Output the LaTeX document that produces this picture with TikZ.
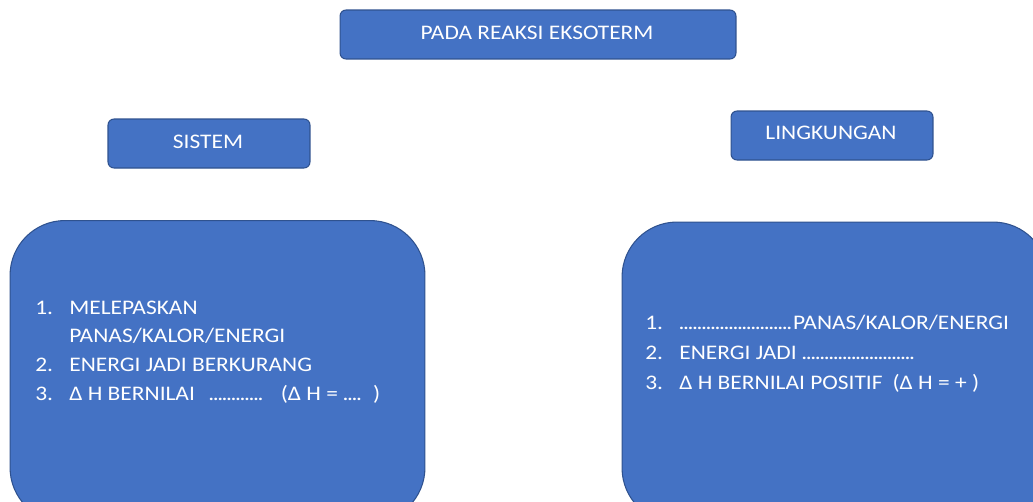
\documentclass[tikz,border=0pt]{standalone}
\usepackage{fontspec}
\setmainfont{Carlito}[FakeStretch=1.13]
\usepackage{tikz}
\usetikzlibrary{positioning}

\definecolor{isibiru}{HTML}{4472C4}
\definecolor{garisbiru}{HTML}{2F528F}

% nomor urut dengan lebar tetap, dan titik-titik isian
\newcommand{\nomor}[1]{\makebox[0.68cm][l]{#1}}
\newcommand{\titik}[1]{\makebox[#1]{\leaders\hbox to 0.09cm{\hss.\hss}\hfill}}

\begin{document}
\begin{tikzpicture}[
    x=0.02cm, y=-0.02cm,
    every node/.style={font=\fontsize{11.8}{16.4}\selectfont, text=white},
    kotak/.style={rectangle, draw=garisbiru, fill=isibiru, line width=0.6pt, rounded corners=0.12cm, inner sep=0pt},
    kotakbesar/.style={kotak, rounded corners=1.1cm, minimum width=8.4cm, minimum height=6.04cm},
    daftar/.style={align=left, anchor=west, inner sep=0pt}
]
    \useasboundingbox (0,0) rectangle (1033,501);
    \clip (0,0) rectangle (1033,501);

    \node[kotak, minimum width=7.92cm, minimum height=0.98cm] (judul) at (538,34.5) {};
    \node at (537,33) {PADA REAKSI EKSOTERM};

    \node[kotak, minimum width=4.04cm, minimum height=0.98cm] (sistem) at (209,143.5) {};
    \node at (208,142) {SISTEM};
    \node[kotak, minimum width=4.04cm, minimum height=0.98cm] (lingkungan) at (832,135.5) {};
    \node at (831,133) {LINGKUNGAN};

    \node[kotakbesar, minimum width=8.3cm] (kiri) at (217.5,371.5) {};
    \node[kotakbesar, minimum width=8.52cm, minimum height=6.02cm] (kanan) at (835,372.5) {};

    \node[daftar] (isikiri) at (35,352) {%
        \nomor{1.}MELEPASKAN\\
        \nomor{}PANAS/KALOR/ENERGI\\
        \nomor{2.}ENERGI JADI BERKURANG\\
        \nomor{3.}Δ H BERNILAI\hspace{0.28cm}\titik{1.08cm}\hspace{0.36cm}(Δ H = \titik{0.36cm}\hspace{0.24cm})};
    \node[daftar, font=\fontsize{11.8}{17}\selectfont] (isikanan) at (645,354) {%
        \nomor{1.}\titik{2.28cm}PANAS/KALOR/ENERGI\\
        \nomor{2.}ENERGI JADI \titik{2.28cm}\\
        \nomor{3.}Δ H BERNILAI POSITIF\hspace{0.2cm}(Δ H = + )};
\end{tikzpicture}
\end{document}
